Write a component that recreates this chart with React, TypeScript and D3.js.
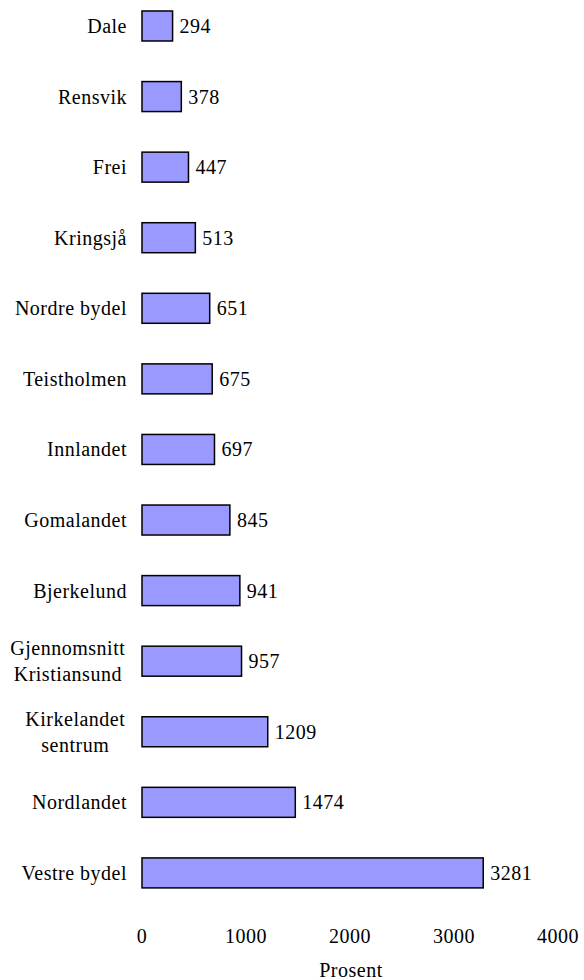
import React from "react";
import * as d3 from "d3";

const categories: string[][] = [
  ["Dale"],
  ["Rensvik"],
  ["Frei"],
  ["Kringsjå"],
  ["Nordre bydel"],
  ["Teistholmen"],
  ["Innlandet"],
  ["Gomalandet"],
  ["Bjerkelund"],
  ["Gjennomsnitt", "Kristiansund"],
  ["Kirkelandet", "sentrum"],
  ["Nordlandet"],
  ["Vestre bydel"],
];
const values: number[] = [294, 378, 447, 513, 651, 675, 697, 845, 941, 957, 1209, 1474, 3281];
const xTicks: number[] = [0, 1000, 2000, 3000, 4000];
const xTitle = "Prosent";

const W = 584;
const H = 980;
const FONT = "Liberation Serif";
const FS = 20;
const LS = 0.5;

let ctx: CanvasRenderingContext2D | null = null;
function measure(s: string): number {
  if (!ctx && typeof document !== "undefined") {
    ctx = document.createElement("canvas").getContext("2d");
  }
  if (!ctx) return s.length * FS * 0.5;
  ctx.font = `${FS}px "${FONT}"`;
  return ctx.measureText(s).width + LS * (s.length - 1);
}

export default function App() {
  const keys = categories.map((c) => c.join(" "));
  const x = d3.scaleLinear().domain([0, 4000]).range([142, 558]);
  const y = d3
    .scaleBand<string>()
    .domain(keys)
    .range([-9.3, 908.2])
    .paddingInner(0.575)
    .paddingOuter(0.2875);
  const bw = y.bandwidth();
  const labelRight = 127;
  const lineH = 26;

  const txt: React.CSSProperties = { fontFamily: FONT, fontSize: FS, letterSpacing: LS };

  return (
    <svg
      width={W}
      height={H}
      style={{ position: "absolute", left: 0, top: 0, background: "#fff" }}
    >
      {keys.map((k, i) => {
        const y0 = y(k)!;
        const cy = y0 + bw / 2;
        const lines = categories[i];
        const blockW = Math.max(...lines.map(measure));
        return (
          <g key={k}>
            <rect
              x={x(0)}
              y={y0}
              width={x(values[i]) - x(0)}
              height={bw}
              fill="#9999ff"
              stroke="#000"
              strokeWidth={1.5}
            />
            <text x={x(values[i]) + 7} y={cy} dy="0.35em" fill="#000" style={txt}>
              {values[i]}
            </text>
            {lines.length === 1 ? (
              <text x={labelRight} y={cy} dy="0.35em" textAnchor="end" fill="#000" style={txt}>
                {lines[0]}
              </text>
            ) : (
              lines.map((ln, j) => (
                <text
                  key={j}
                  x={labelRight - 2 - blockW / 2}
                  y={cy + (j - (lines.length - 1) / 2) * lineH}
                  dy="0.35em"
                  textAnchor="middle"
                  fill="#000"
                  style={txt}
                >
                  {ln}
                </text>
              ))
            )}
          </g>
        );
      })}
      {xTicks.map((t) => (
        <text key={t} x={x(t)} y={943} textAnchor="middle" fill="#000" style={txt}>
          {t}
        </text>
      ))}
      <text x={(x(0) + x(4000)) / 2 + 1} y={977} textAnchor="middle" fill="#000" style={txt}>
        {xTitle}
      </text>
    </svg>
  );
}
